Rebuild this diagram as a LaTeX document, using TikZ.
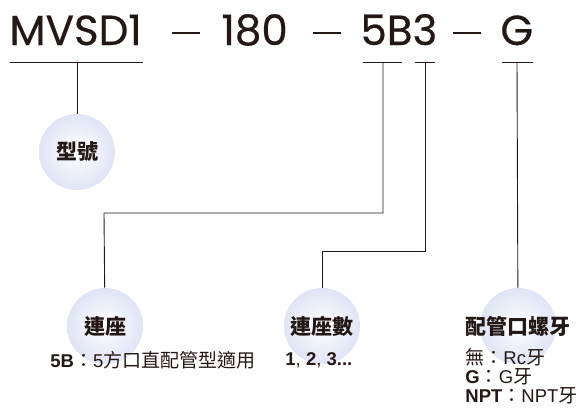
\documentclass[tikz,border=0pt]{standalone}
\usepackage{fontspec}
\usepackage{xcolor}
\usepackage{tikz}
\setmainfont{Liberation Sans}
\newfontfamily\cjk{Noto Sans CJK TC}
\newfontfamily\titlefont{Poppins}[FakeBold=0.5]
\definecolor{ink}{RGB}{35,24,21}
\definecolor{bub}{RGB}{224,228,245}
\newcommand{\cj}[1]{{\cjk\fontsize{19}{19}\selectfont #1}}

\begin{document}
\begin{tikzpicture}[x=1pt,y=-1pt,line width=0.9pt,draw=ink,
    title/.style={text=ink,inner sep=0pt,font=\titlefont\fontsize{42}{42}\selectfont},
    bubble/.style={circle,minimum size=76pt,inner sep=0pt,shading=radial,inner color=white,outer color=bub},
    head/.style={text=ink,inner sep=0pt,font=\cjk\bfseries\fontsize{21}{21}\selectfont},
    desc/.style={text=ink,inner sep=0pt,align=left,font=\fontsize{18.5}{19}\selectfont}]
    \useasboundingbox (0,0) rectangle (577,407);

    \node[title,anchor=base west] (model) at (9,45) {MVSD1};
    \node[title,anchor=base] (dash1) at (186,45) {\rule[11pt]{28pt}{2pt}};
    \node[title,anchor=base west] (size) at (221,45) {180};
    \node[title,anchor=base] (dash2) at (327,45) {\rule[11pt]{28pt}{2pt}};
    \node[title,anchor=base west] (conn) at (360,45) {5B3};
    \node[title,anchor=base] (dash3) at (467,45) {\rule[11pt]{28pt}{2pt}};
    \node[title,anchor=base west] (thread) at (500,45) {G};

    \node[bubble] (b_model) at (77,152) {};
    \node[bubble] (b_conn) at (105,326) {};
    \node[bubble] (b_num) at (322,326) {};
    \node[bubble] (b_thread) at (518,326) {};

    \node[head] (h_model) at (b_model) {型號};
    \node[head] (h_conn) at (b_conn) {連座};
    \node[head] (h_num) at (b_num) {連座數};
    \node[head] (h_thread) at (b_thread) {配管口螺牙};

    \node[desc,anchor=west] (d_conn) at (50,360) {\textbf{5B}\cj{：}5\cj{方口直配管型適用}};
    \node[desc,anchor=west] (d_num) at (285,360) {\textbf{1}, \textbf{2}, \textbf{3...}};
    \node[desc,anchor=north west] (d_thread) at (465,348) {\cj{無：}Rc\cj{牙}\\
      \textbf{G}\cj{：}G\cj{牙}\\
      \textbf{NPT}\cj{：}NPT\cj{牙}};

    \coordinate (u_model) at (77,62);
    \coordinate (u_5b) at (383,62);
    \coordinate (u_3) at (425,62);
    \coordinate (u_g) at (517,62);

    \draw (10,62) -- (143,62);
    \draw (363,62) -- (402,62);
    \draw (415,62) -- (435,62);
    \draw (502,62) -- (533,62);

    \draw (u_model) -- (b_model);
    \draw (u_5b) |- (104,213) -- (b_conn);
    \draw (u_3) |- (322,251) -- (b_num);
    \draw (u_g) -- (b_thread);

  \end{tikzpicture}
\end{document}
